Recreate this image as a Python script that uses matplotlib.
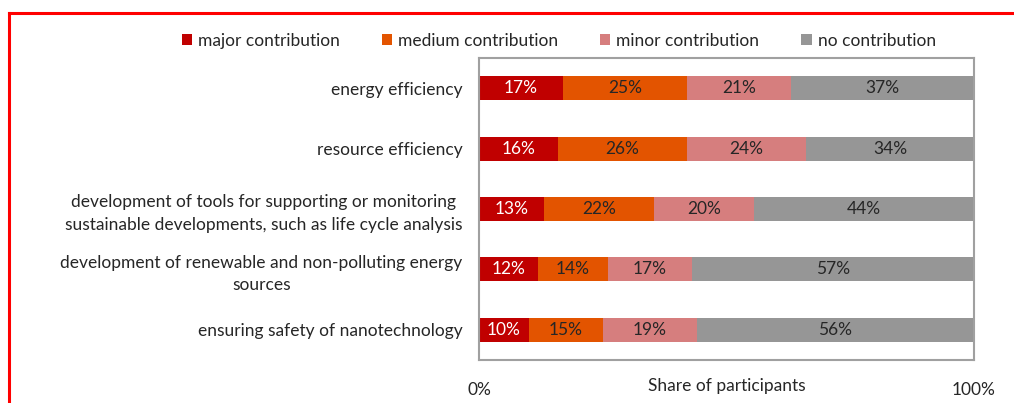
import numpy as np
import matplotlib
matplotlib.use('Agg')
import matplotlib.pyplot as plt
from matplotlib.lines import Line2D
from matplotlib.patches import Patch

plt.rcParams['font.family'] = ['Lato', 'DejaVu Sans']

categories = [
    'energy efficiency',
    'resource efficiency',
    'development of tools for supporting or monitoring\nsustainable developments, such as life cycle analysis',
    'development of renewable and non-polluting energy\nsources',
    'ensuring safety of nanotechnology',
]
series_names = ['major contribution', 'medium contribution', 'minor contribution', 'no contribution']
major = [17, 16, 13, 12, 10]
medium = [25, 26, 22, 14, 15]
minor = [21, 24, 20, 17, 19]
none_ = [37, 34, 44, 57, 56]

colors = ['#C00000', '#E35400', '#D67E7E', '#969696']
text_colors = ['white', '#262626', '#262626', '#262626']
fs = 12.5

values = np.array([major, medium, minor, none_], dtype=float)
# 100% stacked, like the original spreadsheet chart
shares = values / values.sum(axis=0)

fig = plt.figure(figsize=(10.14, 4.03), dpi=100)
ax = fig.add_axes([0.4724, 0.1067, 0.4882, 0.7494])

y = np.arange(len(categories))
left = np.zeros(len(categories))
for i in range(len(series_names)):
    ax.barh(y, shares[i], left=left, height=0.4, color=colors[i], label=series_names[i])
    for j in range(len(categories)):
        ax.text(left[j] + shares[i][j] / 2, y[j], '%d%%' % values[i][j],
                ha='center', va='center', fontsize=fs, color=text_colors[i])
    left += shares[i]

ax.set_xlim(0, 1)
ax.set_ylim(len(categories) - 0.5, -0.5)
ax.set_yticks(y)
ax.set_yticklabels(categories, fontsize=fs, color='#262626', multialignment='center',
                   linespacing=1.5)
ax.set_xticks([0, 1])
ax.set_xticklabels(['0%', '100%'], fontsize=fs, color='#262626')
ax.tick_params(axis='both', length=0)
ax.tick_params(axis='x', pad=16)
ax.tick_params(axis='y', pad=12)
ax.set_xlabel('Share of participants', fontsize=fs, color='#262626')
ax.xaxis.set_label_coords(0.5, -0.06)
for s in ax.spines.values():
    s.set_color('#A0A0A0')
    s.set_linewidth(1.5)

handles = [Patch(facecolor=c) for c in colors]
fig.legend(handles, series_names, loc='center', bbox_to_anchor=(0.551, 0.898), ncol=4,
           frameon=False, fontsize=fs, handlelength=0.6, handleheight=0.6,
           handletextpad=0.35, columnspacing=2.4, labelcolor='#262626')

# red frame around the figure (top and left visible)
fig.add_artist(Line2D([8.5 / 1014, 1.0], [1 - 13 / 403, 1 - 13 / 403], color='red', lw=2.2))
fig.add_artist(Line2D([8.5 / 1014, 8.5 / 1014], [1 - 13 / 403, 0.0], color='red', lw=2.2))

fig.savefig('out.png', dpi=100)
